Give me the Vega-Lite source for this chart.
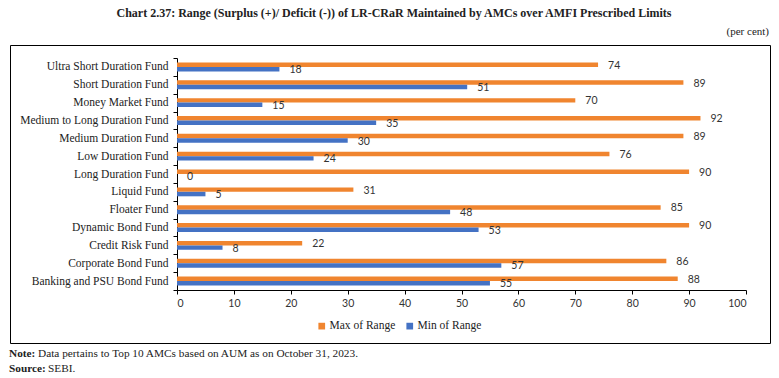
{
  "$schema": "https://vega.github.io/schema/vega-lite/v6.json",
  "background": "white",
  "padding": {"left": 9, "right": 10, "top": 0, "bottom": 0},
  "spacing": 0,
  "config": {
    "view": {"stroke": null},
    "concat": {"spacing": 0}
  },
  "vconcat": [
    {
      "width": 760,
      "height": 38,
      "view": {"stroke": null},
      "data": {"values": [{"title": "Chart 2.37: Range (Surplus (+)/ Deficit (-)) of LR-CRaR Maintained by AMCs over AMFI Prescribed Limits", "unit": "(per cent)"}]},
      "layer": [
        {
          "mark": {"type": "text", "font": "Liberation Serif", "fontSize": 12, "fontWeight": "bold", "color": "#222", "align": "center", "baseline": "middle"},
          "encoding": {"text": {"field": "title"}, "x": {"value": 384}, "y": {"value": 13}}
        },
        {
          "mark": {"type": "text", "font": "Liberation Serif", "fontSize": 11, "color": "#222", "align": "right", "baseline": "middle"},
          "encoding": {"text": {"field": "unit"}, "x": {"value": 759}, "y": {"value": 32}}
        }
      ]
    },
    {
      "width": 760,
      "height": 298,
      "view": {"stroke": "#000", "strokeWidth": 1},
      "data": {
        "values": [
          {"fund": "Ultra Short Duration Fund", "series": "Max of Range", "value": 74},
          {"fund": "Ultra Short Duration Fund", "series": "Min of Range", "value": 18},
          {"fund": "Short Duration Fund", "series": "Max of Range", "value": 89},
          {"fund": "Short Duration Fund", "series": "Min of Range", "value": 51},
          {"fund": "Money Market Fund", "series": "Max of Range", "value": 70},
          {"fund": "Money Market Fund", "series": "Min of Range", "value": 15},
          {"fund": "Medium to Long Duration Fund", "series": "Max of Range", "value": 92},
          {"fund": "Medium to Long Duration Fund", "series": "Min of Range", "value": 35},
          {"fund": "Medium Duration Fund", "series": "Max of Range", "value": 89},
          {"fund": "Medium Duration Fund", "series": "Min of Range", "value": 30},
          {"fund": "Low Duration Fund", "series": "Max of Range", "value": 76},
          {"fund": "Low Duration Fund", "series": "Min of Range", "value": 24},
          {"fund": "Long Duration Fund", "series": "Max of Range", "value": 90},
          {"fund": "Long Duration Fund", "series": "Min of Range", "value": 0},
          {"fund": "Liquid Fund", "series": "Max of Range", "value": 31},
          {"fund": "Liquid Fund", "series": "Min of Range", "value": 5},
          {"fund": "Floater Fund", "series": "Max of Range", "value": 85},
          {"fund": "Floater Fund", "series": "Min of Range", "value": 48},
          {"fund": "Dynamic Bond Fund", "series": "Max of Range", "value": 90},
          {"fund": "Dynamic Bond Fund", "series": "Min of Range", "value": 53},
          {"fund": "Credit Risk Fund", "series": "Max of Range", "value": 22},
          {"fund": "Credit Risk Fund", "series": "Min of Range", "value": 8},
          {"fund": "Corporate Bond Fund", "series": "Max of Range", "value": 86},
          {"fund": "Corporate Bond Fund", "series": "Min of Range", "value": 57},
          {"fund": "Banking and PSU Bond Fund", "series": "Max of Range", "value": 88},
          {"fund": "Banking and PSU Bond Fund", "series": "Min of Range", "value": 55}
        ]
      },
      "encoding": {
        "y": {
          "field": "fund", "type": "nominal", "sort": null,
          "scale": {"range": [13, 245], "paddingInner": 0, "paddingOuter": 0},
          "axis": {
            "title": null, "orient": "left", "offset": -167,
            "tickBand": "extent", "tickSize": 4, "tickColor": "#000", "domainColor": "#000",
            "labelPadding": 5, "labelFont": "Liberation Serif", "labelFontSize": 11.5, "labelColor": "#222",
            "labelLimit": 300, "grid": false
          }
        },
        "yOffset": {
          "field": "series", "type": "nominal", "sort": ["Max of Range", "Min of Range"],
          "scale": {"paddingInner": 0, "paddingOuter": 1}
        },
        "x": {
          "field": "value", "type": "quantitative",
          "scale": {"domain": [0, 100], "range": [167, 736], "nice": false},
          "axis": {
            "title": null, "orient": "bottom", "offset": -53,
            "values": [0, 10, 20, 30, 40, 50, 60, 70, 80, 90, 100],
            "grid": false, "tickSize": 4, "tickColor": "#000", "domainColor": "#000",
            "labelPadding": 4, "labelFont": "Lato", "labelFontSize": 10.5, "labelColor": "#333"
          }
        }
      },
      "layer": [
        {
          "mark": {"type": "bar"},
          "encoding": {
            "color": {
              "field": "series", "type": "nominal",
              "scale": {"domain": ["Max of Range", "Min of Range"], "range": ["#F0852F", "#4472C4"]},
              "legend": {
                "title": null, "orient": "none", "direction": "horizontal",
                "legendX": 306, "legendY": 320,
                "symbolType": "square", "symbolSize": 45, "symbolStrokeWidth": 0,
                "labelFont": "Liberation Serif", "labelFontSize": 11.5, "labelColor": "#222",
                "columnPadding": 8, "labelOffset": 2
              }
            }
          }
        },
        {
          "mark": {"type": "text", "align": "left", "baseline": "middle", "dx": 10, "dy": 1, "font": "Lato", "fontSize": 10.5, "color": "#333"},
          "encoding": {"text": {"field": "value", "type": "quantitative"}}
        }
      ]
    },
    {
      "width": 760,
      "height": 35,
      "view": {"stroke": null},
      "data": {"values": [{"note": "Note:", "noteText": "Data pertains to Top 10 AMCs based on AUM as on October 31, 2023.", "src": "Source:", "srcText": "SEBI."}]},
      "layer": [
        {
          "mark": {"type": "text", "font": "Liberation Serif", "fontSize": 11.3, "fontWeight": "bold", "color": "#222", "align": "left", "baseline": "middle"},
          "encoding": {"text": {"field": "note"}, "x": {"value": -1}, "y": {"value": 10}}
        },
        {
          "mark": {"type": "text", "font": "Liberation Serif", "fontSize": 11.3, "color": "#222", "align": "left", "baseline": "middle", "dx": 29},
          "encoding": {"text": {"field": "noteText"}, "x": {"value": -1}, "y": {"value": 10}}
        },
        {
          "mark": {"type": "text", "font": "Liberation Serif", "fontSize": 11.3, "fontWeight": "bold", "color": "#222", "align": "left", "baseline": "middle"},
          "encoding": {"text": {"field": "src"}, "x": {"value": -1}, "y": {"value": 25}}
        },
        {
          "mark": {"type": "text", "font": "Liberation Serif", "fontSize": 11.3, "color": "#222", "align": "left", "baseline": "middle", "dx": 39},
          "encoding": {"text": {"field": "srcText"}, "x": {"value": -1}, "y": {"value": 25}}
        }
      ]
    }
  ]
}
